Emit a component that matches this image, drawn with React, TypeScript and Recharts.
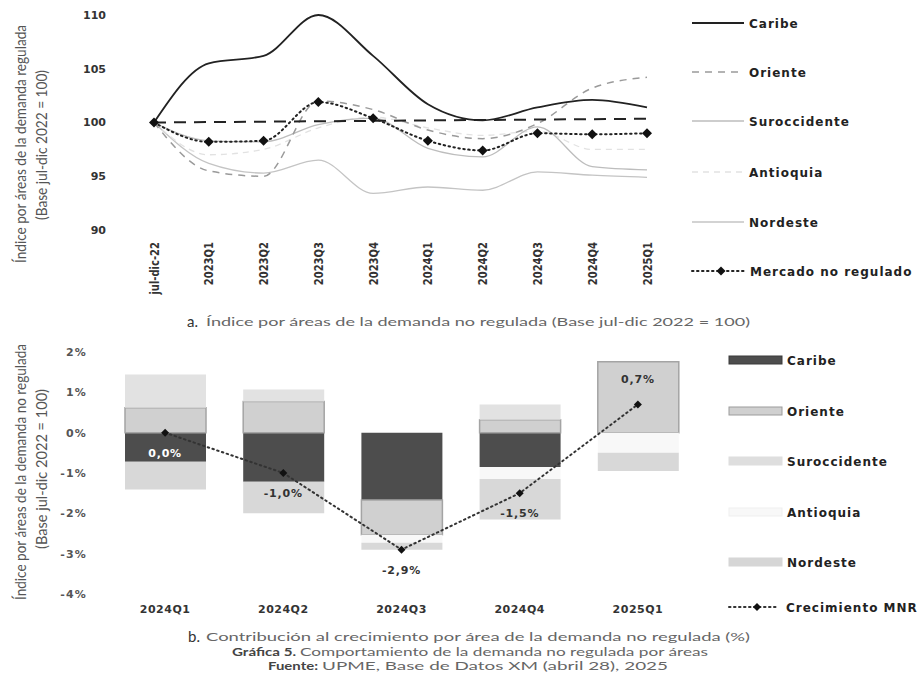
import React from 'react';
import { LineChart, Line, XAxis, YAxis, ReferenceLine, ComposedChart, Bar, LabelList } from 'recharts';

// ---------- Panel a: index (Base jul-dic 2022 = 100) ----------
const periods = ['jul-dic-22', '2023Q1', '2023Q2', '2023Q3', '2023Q4', '2024Q1', '2024Q2', '2024Q3', '2024Q4', '2025Q1'];
const caribeIdx = [100, 105.5, 106.2, 110.0, 106.2, 101.7, 100.2, 101.4, 102.1, 101.4];
const orienteIdx = [100, 95.5, 95.0, 102.0, 101.2, 99.3, 98.5, 99.9, 103.2, 104.2];
const suroccidenteIdx = [100, 98.3, 98.2, 99.8, 100.4, 97.6, 96.8, 99.6, 95.9, 95.6];
const antioquiaIdx = [100, 97.0, 97.5, 99.5, 100.5, 99.5, 98.8, 99.2, 97.5, 97.5];
const nordesteIdx = [100, 96.2, 95.3, 96.5, 93.4, 94.0, 93.7, 95.4, 95.1, 94.9];
const mercadoIdx = [100, 98.2, 98.3, 101.9, 100.4, 98.3, 97.4, 99.0, 98.9, 99.0];
const baseSegment = [100, 100.35];
const indexTicks = [90, 95, 100, 105, 110];

// ---------- Panel b: contribution to growth (%) ----------
const quarters = ['2024Q1', '2024Q2', '2024Q3', '2024Q4', '2025Q1'];
const caribeC = [-0.72, -1.22, -1.67, -0.85, 0];
const orienteC = [0.62, 0.77, -0.86, 0.32, 1.76];
const suroccidenteC = [0.82, 0.3, 0, 0.38, 0];
const antioquiaC = [0, 0, -0.2, -0.3, -0.5];
const nordesteC = [-0.69, -0.78, -0.17, -1.0, -0.45];
const growthMNR = [0.0, -1.0, -2.9, -1.5, 0.7];
const pctTicks = [-4, -3, -2, -1, 0, 1, 2];

const lineData = periods.map((p, i) => ({
  period: p,
  Caribe: caribeIdx[i],
  Oriente: orienteIdx[i],
  Suroccidente: suroccidenteIdx[i],
  Antioquia: antioquiaIdx[i],
  Nordeste: nordesteIdx[i],
  Mercado: mercadoIdx[i],
}));

const barData = quarters.map((q, i) => ({
  quarter: q,
  Caribe: caribeC[i],
  Oriente: orienteC[i],
  Suroccidente: suroccidenteC[i],
  Antioquia: antioquiaC[i],
  Nordeste: nordesteC[i],
  MNR: growthMNR[i],
}));

const BOLD = '"DejaVu Sans", Verdana, sans-serif';
const LIGHT = 'Lato, "Open Sans", sans-serif';

const diamondPath = (cx: number, cy: number, r: number) =>
  `M${cx},${cy - r}L${cx + r},${cy}L${cx},${cy + r}L${cx - r},${cy}Z`;

const makeDiamond = (r: number) => (props: any) => {
  const { cx, cy, index } = props;
  if (cx == null || cy == null) return <g key={`e${index}`} />;
  return <path key={`d${index}`} d={diamondPath(cx, cy, r)} fill="#111" />;
};

const RotTick = (props: any) => {
  const { x, y, payload } = props;
  return (
    <g transform={`translate(${x},${y}) scale(1.3,1) rotate(-90)`}>
      <text x={0} y={0} dy="0.35em" textAnchor="end" fontSize={10} fontWeight="bold" fontFamily={BOLD} fill="#333">
        {payload.value}
      </text>
    </g>
  );
};

const GrowthLabel = (props: any) => {
  const { x, y, value, index } = props;
  const txt = `${Number(value).toFixed(1).replace('.', ',')}%`;
  const above = value > 0.3;
  const fill = index === 0 ? '#ffffff' : '#333';
  return (
    <text
      x={x}
      y={above ? y - 21 : y + 24}
      textAnchor="middle"
      fontSize={11}
      fontWeight="bold"
      fontFamily={BOLD}
      letterSpacing={0.8}
      fill={fill}
    >
      {txt}
    </text>
  );
};

const lineLegend = [
  { name: 'Caribe', color: '#222', dash: '', width: 1.8, y: 23 },
  { name: 'Oriente', color: '#9a9a9a', dash: '7 6', width: 1.5, y: 72 },
  { name: 'Suroccidente', color: '#bdbdbd', dash: '', width: 1.3, y: 121 },
  { name: 'Antioquia', color: '#e2e2e2', dash: '6 5', width: 1.3, y: 172 },
  { name: 'Nordeste', color: '#c4c4c4', dash: '', width: 1.3, y: 222 },
];

const barLegend = [
  { name: 'Caribe', fill: '#4d4d4d', stroke: '#3a3a3a', y: 360 },
  { name: 'Oriente', fill: '#d0d0d0', stroke: '#9c9c9c', y: 411 },
  { name: 'Suroccidente', fill: '#dedede', stroke: '#dedede', y: 461 },
  { name: 'Antioquia', fill: '#f8f8f8', stroke: '#efefef', y: 512 },
  { name: 'Nordeste', fill: '#d6d6d6', stroke: '#d6d6d6', y: 562 },
];

const legendText = { fontFamily: BOLD, fontWeight: 'bold' as const, fontSize: 12, letterSpacing: 1, fill: '#222' };

export default function App() {
  return (
    <div style={{ position: 'absolute', left: 0, top: 0, width: 922, height: 684, background: '#fff', overflow: 'hidden' }}>
      {/* Panel a */}
      <div style={{ position: 'absolute', left: 0, top: 0 }}>
        <LineChart width={922} height={300} data={lineData} margin={{ top: 15, right: 275, bottom: 10, left: 0 }}>
          <XAxis
            dataKey="period"
            axisLine={false}
            tickLine={false}
            tickSize={0}
            tickMargin={12}
            height={60}
            interval={0}
            tick={<RotTick />}
          />
          <YAxis
            domain={[90, 110]}
            ticks={indexTicks}
            axisLine={false}
            tickLine={false}
            tickSize={0}
            tickMargin={48}
            width={154}
            tick={{ fontSize: 11, fontWeight: 'bold', fontFamily: BOLD, fill: '#333' }}
          />
          <Line type="monotone" dataKey="Nordeste" stroke="#c4c4c4" strokeWidth={1.3} dot={false} isAnimationActive={false} />
          <Line type="monotone" dataKey="Antioquia" stroke="#e2e2e2" strokeWidth={1.3} strokeDasharray="6 5" dot={false} isAnimationActive={false} />
          <Line type="monotone" dataKey="Suroccidente" stroke="#bdbdbd" strokeWidth={1.3} dot={false} isAnimationActive={false} />
          <Line type="monotone" dataKey="Oriente" stroke="#9a9a9a" strokeWidth={1.5} strokeDasharray="7 6" dot={false} isAnimationActive={false} />
          <ReferenceLine
            segment={[
              { x: periods[0], y: baseSegment[0] },
              { x: periods[periods.length - 1], y: baseSegment[1] },
            ]}
            stroke="#222"
            strokeWidth={2}
            strokeDasharray="12 8"
          />
          <Line type="monotone" dataKey="Caribe" stroke="#222" strokeWidth={1.8} dot={false} isAnimationActive={false} />
          <Line
            type="monotone"
            dataKey="Mercado"
            stroke="#222"
            strokeWidth={2}
            strokeDasharray="1.5 3.5"
            strokeLinecap="round"
            dot={makeDiamond(5)}
            isAnimationActive={false}
          />
        </LineChart>
      </div>

      {/* Panel b */}
      <div style={{ position: 'absolute', left: 0, top: 330 }}>
        <ComposedChart
          width={922}
          height={300}
          data={barData}
          stackOffset="sign"
          margin={{ top: 22, right: 225, bottom: 6, left: 0 }}
        >
          <XAxis
            dataKey="quarter"
            axisLine={false}
            tickLine={false}
            tickSize={0}
            tickMargin={11}
            height={30}
            interval={0}
            tick={{ fontSize: 11, fontWeight: 'bold', fontFamily: BOLD, fill: '#333', letterSpacing: 0.5 }}
          />
          <YAxis
            domain={[-4, 2]}
            ticks={pctTicks}
            axisLine={false}
            tickLine={false}
            tickSize={0}
            tickMargin={19}
            width={106}
            tickFormatter={(v: number) => `${v}%`}
            tick={{ fontSize: 11, fontWeight: 'bold', fontFamily: BOLD, fill: '#555', letterSpacing: 1.2 }}
          />
          <Bar dataKey="Caribe" stackId="s" barSize={81} fill="#4d4d4d" isAnimationActive={false} />
          <Bar dataKey="Oriente" stackId="s" barSize={81} fill="#d0d0d0" stroke="#a4a4a4" strokeWidth={1.5} isAnimationActive={false} />
          <Bar dataKey="Suroccidente" stackId="s" barSize={81} fill="#e2e2e2" isAnimationActive={false} />
          <Bar dataKey="Antioquia" stackId="s" barSize={81} fill="#f8f8f8" isAnimationActive={false} />
          <Bar dataKey="Nordeste" stackId="s" barSize={81} fill="#d8d8d8" isAnimationActive={false} />
          <Line
            type="linear"
            dataKey="MNR"
            stroke="#333"
            strokeWidth={2}
            strokeDasharray="1.5 3.5"
            strokeLinecap="round"
            dot={makeDiamond(4)}
            isAnimationActive={false}
          >
            <LabelList dataKey="MNR" content={<GrowthLabel />} />
          </Line>
        </ComposedChart>
      </div>

      {/* Texts, legends and captions */}
      <svg width={922} height={684} style={{ position: 'absolute', left: 0, top: 0, pointerEvents: 'none' }}>
        {/* y-axis titles panel a */}
        <g transform="translate(26,144) scale(1.25,1) rotate(-90)">
          <text x={0} y={0} textAnchor="middle" fontSize={12} fontFamily={LIGHT} fill="#555" textLength={238} lengthAdjust="spacingAndGlyphs">
            Índice por áreas de la demanda regulada
          </text>
        </g>
        <g transform="translate(47,145) scale(1.25,1) rotate(-90)">
          <text x={0} y={0} textAnchor="middle" fontSize={12} fontFamily={LIGHT} fill="#555" textLength={150} lengthAdjust="spacingAndGlyphs">
            (Base jul-dic 2022 = 100)
          </text>
        </g>

        {/* legend panel a */}
        {lineLegend.map((l) => (
          <g key={l.name}>
            <line x1={692} x2={744} y1={l.y} y2={l.y} stroke={l.color} strokeWidth={l.width} strokeDasharray={l.dash || undefined} />
            <text x={749} y={l.y + 4.5} {...legendText}>{l.name}</text>
          </g>
        ))}
        <g>
          <line x1={692} x2={746} y1={271} y2={271} stroke="#222" strokeWidth={2} strokeDasharray="1.5 3.5" strokeLinecap="round" />
          <path d={diamondPath(721, 271, 4.5)} fill="#111" />
          <text x={750} y={275.5} {...legendText}>Mercado no regulado</text>
        </g>

        {/* caption a */}
        <text x={187} y={327} fontSize={15} fontFamily={LIGHT} fill="#333">a.</text>
        <text x={206} y={326} fontSize={12} fontFamily={LIGHT} fill="#666" textLength={544} lengthAdjust="spacingAndGlyphs">
          Índice por áreas de la demanda no regulada (Base jul-dic 2022 = 100)
        </text>

        {/* y-axis titles panel b */}
        <g transform="translate(26,472) scale(1.25,1) rotate(-90)">
          <text x={0} y={0} textAnchor="middle" fontSize={12} fontFamily={LIGHT} fill="#555" textLength={256} lengthAdjust="spacingAndGlyphs">
            Índice por áreas de la demanda no regulada
          </text>
        </g>
        <g transform="translate(47,469) scale(1.25,1) rotate(-90)">
          <text x={0} y={0} textAnchor="middle" fontSize={12} fontFamily={LIGHT} fill="#555" textLength={160} lengthAdjust="spacingAndGlyphs">
            (Base jul-dic 2022 = 100)
          </text>
        </g>

        {/* legend panel b */}
        {barLegend.map((l) => (
          <g key={l.name}>
            <rect x={729} y={l.y - 4} width={53} height={8} fill={l.fill} stroke={l.stroke} strokeWidth={1} />
            <text x={787} y={l.y + 4.5} {...legendText}>{l.name}</text>
          </g>
        ))}
        <g>
          <line x1={729} x2={779} y1={607} y2={607} stroke="#333" strokeWidth={2} strokeDasharray="1.5 3.5" strokeLinecap="round" />
          <path d={diamondPath(757, 607, 4)} fill="#111" />
          <text x={786} y={611.5} {...legendText}>Crecimiento MNR</text>
        </g>

        {/* captions b */}
        <text x={188} y={642} fontSize={15} fontFamily={LIGHT} fill="#333">b.</text>
        <text x={206} y={641} fontSize={12} fontFamily={LIGHT} fill="#666" textLength={544} lengthAdjust="spacingAndGlyphs">
          Contribución al crecimiento por área de la demanda no regulada (%)
        </text>
        <text x={232} y={656} fontSize={12} fontFamily={LIGHT} fontWeight="bold" fill="#444" textLength={64} lengthAdjust="spacingAndGlyphs">
          Gráfica 5.
        </text>
        <text x={300} y={656} fontSize={12} fontFamily={LIGHT} fill="#666" textLength={408} lengthAdjust="spacingAndGlyphs">
          Comportamiento de la demanda no regulada por áreas
        </text>
        <text x={268} y={670} fontSize={12} fontFamily={LIGHT} fontWeight="bold" fill="#444" textLength={50} lengthAdjust="spacingAndGlyphs">
          Fuente:
        </text>
        <text x={322} y={670} fontSize={12} fontFamily={LIGHT} fill="#666" textLength={346} lengthAdjust="spacingAndGlyphs">
          UPME, Base de Datos XM (abril 28), 2025
        </text>
      </svg>
    </div>
  );
}
